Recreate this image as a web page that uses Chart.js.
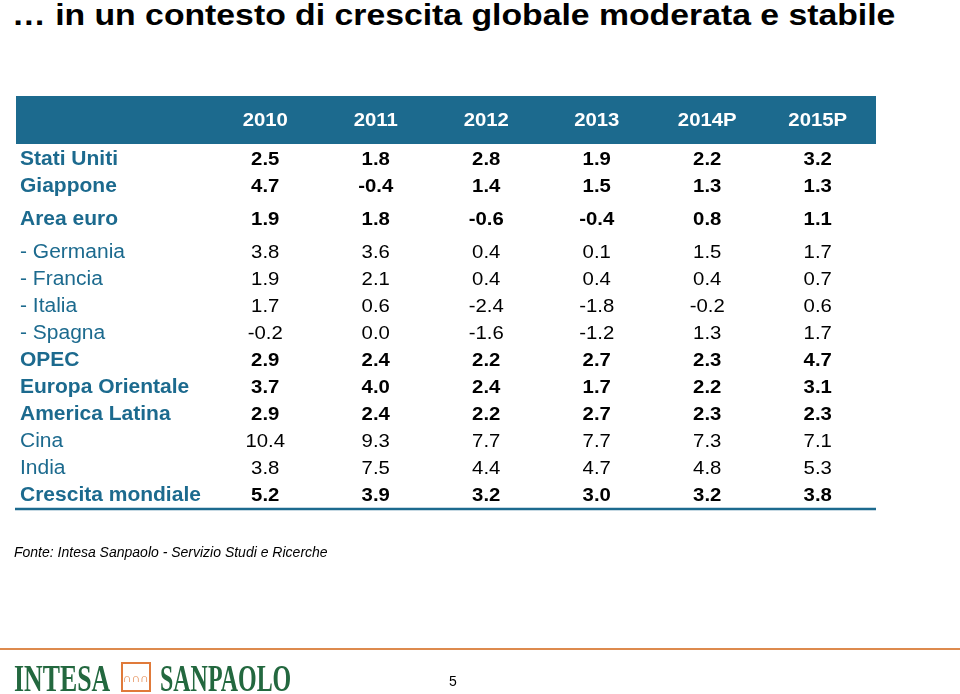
<!DOCTYPE html>
<html>
<head>
<meta charset="utf-8">
<script src="https://cdn.jsdelivr.net/npm/chart.js@4.4.1/dist/chart.umd.min.js"></script>
<style>
  body { margin: 0; width: 960px; height: 694px; overflow: hidden; background: #fff; position: relative;
         font-family: "Liberation Sans", Arial, sans-serif; }
  #title { position: absolute; left: 12px; top: 0; font-size: 30px; line-height: 30px; font-weight: bold; color: #000;
           white-space: nowrap; transform: scaleX(1.125); transform-origin: left; }
  #table { position: absolute; left: 0; top: 0; }
  #source { position: absolute; left: 14px; top: 545px; font-size: 14px; line-height: 14px; font-style: italic; color: #000; }
  #rule { position: absolute; left: 0; top: 648px; width: 960px; height: 2px; background: #dd8a4e; }
  #logo { position: absolute; left: 14px; top: 659px; height: 38px; color: #23683f; font-weight: bold;
          font-family: "Liberation Serif", "Times New Roman", serif; font-size: 38px; line-height: 38px; white-space: nowrap; }
  #logo .w { position: absolute; display: inline-block; transform-origin: left; }
  #logo .box { position: absolute; top: 3px; width: 30px; height: 30px; border: 2px solid #e07a3a; box-sizing: border-box;
               color: #e07a3a; font-family: "Liberation Sans", sans-serif; font-weight: normal; font-size: 12px; line-height: 28px; text-align: center; }
  #page { position: absolute; left: 449px; top: 674px; font-size: 14px; line-height: 14px; color: #000; }
</style>
</head>
<body>
<div id="title">… in un contesto di crescita globale moderata e stabile</div>
<canvas id="table" width="960" height="694"></canvas>
<div id="source">Fonte: Intesa Sanpaolo - Servizio Studi e Ricerche</div>
<div id="rule"></div>
<div id="logo">
  <span class="w" style="left:0;transform:scaleX(0.68)">INTESA</span>
  <span class="box" style="left:107px">∩∩∩</span>
  <span class="w" style="left:146px;transform:scaleX(0.63)">SANPAOLO</span>
</div>
<div id="page">5</div>

<script>
// colonne e righe della tabella
const years = ['2010', '2011', '2012', '2013', '2014P', '2015P'];
const rows = ['Stati Uniti', 'Giappone', 'Area euro', '- Germania', '- Francia', '- Italia', '- Spagna',
              'OPEC', 'Europa Orientale', 'America Latina', 'Cina', 'India', 'Crescita mondiale'];
// blocchi di righe (separati da un piccolo stacco)
const rowGroup = [0, 0, 1, 2, 2, 2, 2, 2, 2, 2, 2, 2, 2];
// righe principali (in grassetto)
const headlineRows = ['Stati Uniti', 'Giappone', 'Area euro', 'OPEC', 'Europa Orientale', 'America Latina', 'Crescita mondiale'];

// crescita PIL, % a/a
const usa          = [2.5, 1.8, 2.8, 1.9, 2.2, 3.2];
const japan        = [4.7, -0.4, 1.4, 1.5, 1.3, 1.3];
const euroArea     = [1.9, 1.8, -0.6, -0.4, 0.8, 1.1];
const germany      = [3.8, 3.6, 0.4, 0.1, 1.5, 1.7];
const france       = [1.9, 2.1, 0.4, 0.4, 0.4, 0.7];
const italy        = [1.7, 0.6, -2.4, -1.8, -0.2, 0.6];
const spain        = [-0.2, 0.0, -1.6, -1.2, 1.3, 1.7];
const opec         = [2.9, 2.4, 2.2, 2.7, 2.3, 4.7];
const eastEurope   = [3.7, 4.0, 2.4, 1.7, 2.2, 3.1];
const latinAmerica = [2.9, 2.4, 2.2, 2.7, 2.3, 2.3];
const china        = [10.4, 9.3, 7.7, 7.7, 7.3, 7.1];
const india        = [3.8, 7.5, 4.4, 4.7, 4.8, 5.3];
const world        = [5.2, 3.9, 3.2, 3.0, 3.2, 3.8];

const series = [usa, japan, euroArea, germany, france, italy, spain, opec, eastEurope, latinAmerica, china, india, world];

const BLUE = '#1c6a8e';
const FONT = '"Liberation Sans", Arial, sans-serif';
const rowPos = rows.map((r, i) => i + 0.22 * rowGroup[i]);
const isBold = i => headlineRows.includes(rows[i]);

const datasets = rows.map((name, i) => ({
  label: name,
  data: years.map((y, j) => ({ x: y, y: rowPos[i], v: series[i][j] })),
  showLine: false,
  pointRadius: 0
}));

// testo leggermente allargato come nell'originale
function wideText(ctx, txt, x, y, sx) {
  ctx.save();
  ctx.translate(x, y);
  ctx.scale(sx, 1);
  ctx.fillText(txt, 0, 0);
  ctx.restore();
}

// disegna la tabella usando le scale di Chart.js
const tablePlugin = {
  id: 'tableCells',
  beforeDatasetsDraw(chart) {
    const { ctx, chartArea, scales: { x } } = chart;
    ctx.save();
    ctx.fillStyle = BLUE;
    ctx.fillRect(16, chartArea.top, 860, 48);
    ctx.fillStyle = '#fff';
    ctx.font = 'bold 19px ' + FONT;
    ctx.textAlign = 'center';
    ctx.textBaseline = 'middle';
    years.forEach((y, j) => wideText(ctx, y, x.getPixelForValue(j), chartArea.top + 25, 1.07));
    ctx.restore();
  },
  afterDatasetsDraw(chart) {
    const { ctx, chartArea, scales: { y } } = chart;
    ctx.save();
    ctx.textBaseline = 'middle';
    rows.forEach((name, i) => {
      const weight = isBold(i) ? 'bold ' : '';
      // etichetta riga
      ctx.fillStyle = BLUE;
      ctx.textAlign = 'left';
      ctx.font = weight + '20px ' + FONT;
      wideText(ctx, name, 20, y.getPixelForValue(rowPos[i]), 1.05);
      // valori
      ctx.fillStyle = '#000';
      ctx.textAlign = 'center';
      ctx.font = weight + '19px ' + FONT;
      chart.getDatasetMeta(i).data.forEach((pt, j) => {
        wideText(ctx, datasets[i].data[j].v.toFixed(1), pt.x, pt.y, 1.07);
      });
    });
    // linea di chiusura
    ctx.strokeStyle = BLUE;
    ctx.lineWidth = 2.5;
    ctx.beginPath();
    ctx.moveTo(15, chartArea.bottom);
    ctx.lineTo(876, chartArea.bottom);
    ctx.stroke();
    ctx.restore();
  }
};

new Chart(document.getElementById('table').getContext('2d'), {
  type: 'line',
  data: { labels: years, datasets: datasets },
  options: {
    responsive: false,
    animation: false,
    events: [],
    layout: { padding: { left: 210, right: 87, top: 96, bottom: 185 } },
    plugins: { legend: { display: false }, tooltip: { enabled: false } },
    scales: {
      x: { type: 'category', offset: true, display: false },
      y: { type: 'linear', reverse: true, min: -2.37, max: 12.93, display: false }
    }
  },
  plugins: [tablePlugin]
});
</script>
</body>
</html>
